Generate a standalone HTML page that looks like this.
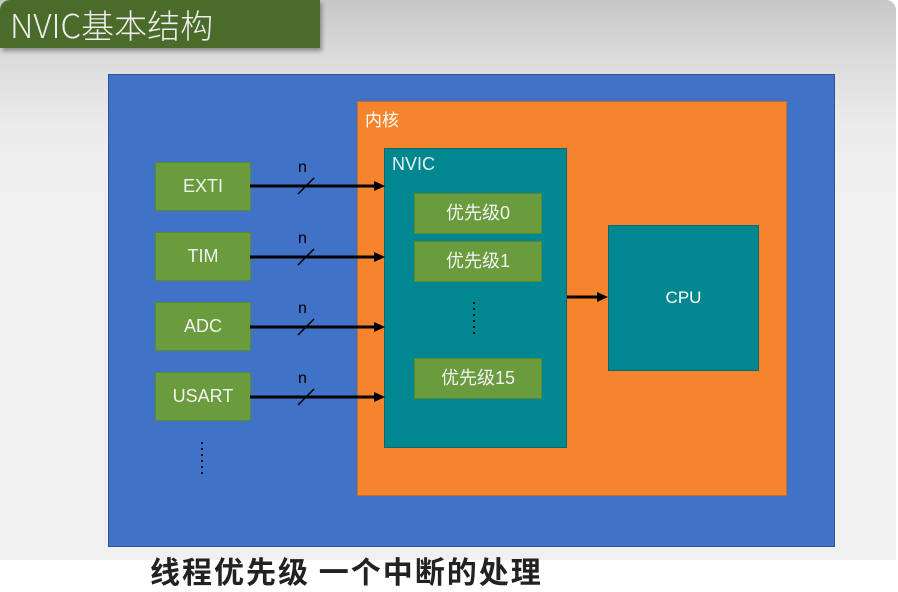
<!DOCTYPE html>
<html><head><meta charset="utf-8"><style>
html,body{margin:0;padding:0;}
body{width:898px;height:560px;overflow:hidden;position:relative;background:#fff;font-family:"Liberation Sans","Noto Sans CJK SC",sans-serif;}
.bg{position:absolute;left:0;top:0;width:896px;height:560px;border-top-right-radius:10px;background:linear-gradient(#c7c7c7 0px,#dcdcdc 60px,#ececec 130px,#f0f0f0 200px,#f0f0f0);}
.title{position:absolute;left:0;top:0;width:320px;height:48px;background:#4b6b2a;border-top-left-radius:10px;box-shadow:2px 3px 4px rgba(0,0,0,0.35);color:#eee;font-size:33px;line-height:48px;padding-left:10px;box-sizing:border-box;font-family:"Noto Sans CJK SC","Liberation Sans",sans-serif;font-weight:300;}
.b{position:absolute;box-sizing:border-box;}
.g{background:#6a9b3c;border:1px solid #5a8a30;color:#f2f2f2;font-size:18px;text-align:center;}
.bottom{position:absolute;left:150px;top:548px;font-size:30px;font-weight:bold;color:#222;font-family:"Noto Sans CJK SC",sans-serif;letter-spacing:2px;white-space:nowrap;}
</style></head><body>
<div class="bg"></div>
<div class="title">NVIC基本结构</div>
<div class="b" style="left:108px;top:74px;width:727px;height:473px;background:#4072c7;border:1px solid #2f5597;"></div>
<div class="b" style="left:357px;top:101px;width:430px;height:395px;background:#f6842c;border:1px solid #c86a20;"></div>
<div class="b" style="left:365px;top:106px;color:#fff;font-size:17px;font-family:'Noto Sans CJK SC',sans-serif;">内核</div>
<div class="b" style="left:384px;top:148px;width:183px;height:300px;background:#01878f;border:1px solid #0a6a70;"></div>
<div class="b" style="left:392px;top:154px;color:#e8f4f4;font-size:18px;">NVIC</div>
<div class="b" style="left:608px;top:225px;width:151px;height:146px;background:#01878f;border:1px solid #0a6a70;color:#fff;font-size:17px;line-height:144px;text-align:center;">CPU</div>
<div class="b g" style="left:414px;top:193px;width:128px;height:41px;line-height:39px;">优先级0</div>
<div class="b g" style="left:414px;top:241px;width:128px;height:41px;line-height:39px;">优先级1</div>
<div class="b g" style="left:414px;top:358px;width:128px;height:41px;line-height:39px;">优先级15</div>
<div class="b g" style="left:155px;top:162px;width:96px;height:49px;line-height:47px;">EXTI</div>
<div class="b g" style="left:155px;top:232px;width:96px;height:49px;line-height:47px;">TIM</div>
<div class="b g" style="left:155px;top:302px;width:96px;height:49px;line-height:47px;">ADC</div>
<div class="b g" style="left:155px;top:372px;width:96px;height:49px;line-height:47px;">USART</div>
<svg class="b" style="left:0;top:0" width="898" height="560">
<g stroke="#000" stroke-width="3" fill="none">
<line x1="250" y1="186" x2="376" y2="186"/>
<line x1="250" y1="257" x2="376" y2="257"/>
<line x1="250" y1="327" x2="376" y2="327"/>
<line x1="250" y1="397" x2="376" y2="397"/>
<line x1="567" y1="297" x2="600" y2="297"/>
</g>
<g fill="#000">
<polygon points="385,186 374,181 374,191"/>
<polygon points="385,257 374,252 374,262"/>
<polygon points="385,327 374,322 374,332"/>
<polygon points="385,397 374,392 374,402"/>
<polygon points="608,297 597,292 597,302"/>
</g>
<g stroke="#000" stroke-width="1.5">
<line x1="298" y1="194" x2="314" y2="178"/>
<line x1="298" y1="265" x2="314" y2="249"/>
<line x1="298" y1="335" x2="314" y2="319"/>
<line x1="298" y1="405" x2="314" y2="389"/>
</g>
<g fill="#000" font-size="16" font-family="Liberation Sans,sans-serif">
<text x="298" y="172">n</text>
<text x="298" y="243">n</text>
<text x="298" y="313">n</text>
<text x="298" y="383">n</text>
</g>
<g stroke="#111" stroke-width="2" stroke-dasharray="2,4">
<line x1="474" y1="302" x2="474" y2="337"/>
<line x1="202" y1="442" x2="202" y2="477"/>
</g>
</svg>
<div class="bottom">线程优先级  一个中断的处理</div>
</body></html>
